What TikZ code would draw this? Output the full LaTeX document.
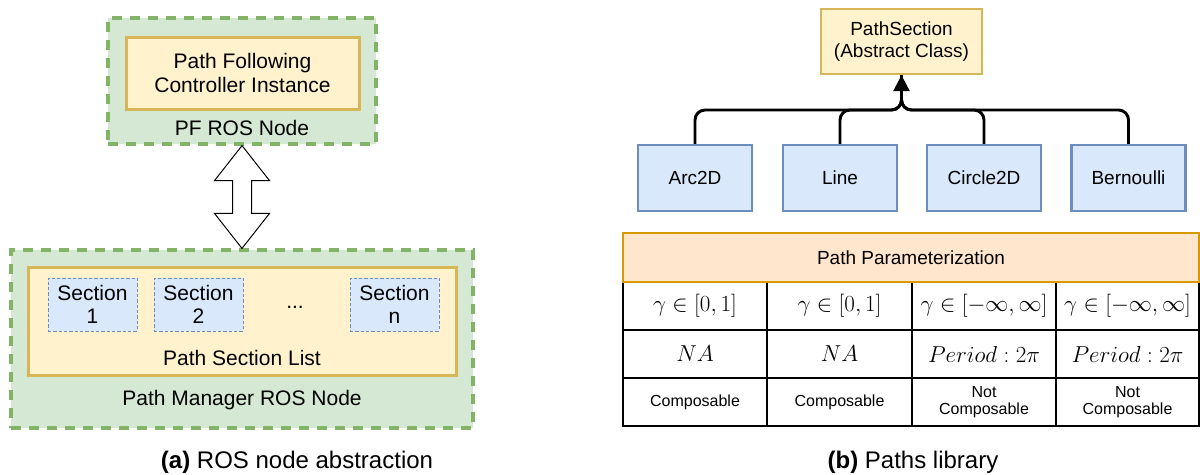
\documentclass[tikz,border=0pt]{standalone}
\usepackage{fontspec}
\setmainfont{Liberation Sans}
\usetikzlibrary{arrows.meta,calc}
\definecolor{gfill}{HTML}{D5E8D4}
\definecolor{gline}{HTML}{82B366}
\definecolor{yfill}{HTML}{FFF2CC}
\definecolor{yline}{HTML}{D6B656}
\definecolor{bfill}{HTML}{DAE8FC}
\definecolor{bline}{HTML}{6C8EBF}
\definecolor{ofill}{HTML}{FFE6CC}
\definecolor{oline}{HTML}{D79B00}
\def\px{0.75pt}
\tikzset{
  leftfont/.style={font=\fontsize{15.75}{18.6}\selectfont},
  rightfont/.style={font=\fontsize{14.25}{17}\selectfont},
  greenbox/.style={draw=gline, fill=gfill, line width=2.4pt, dash pattern=on 7.5pt off 6pt, inner sep=0pt},
  yellowbox/.style={draw=yline, fill=yfill, line width=2.25pt, inner sep=0pt, align=center, leftfont},
  secbox/.style={draw=bline, fill=bfill, line width=0.75pt, dash pattern=on 2.5pt off 1.5pt, inner sep=0pt,
    minimum width=89*\px, minimum height=53*\px, align=center, leftfont},
  classbox/.style={draw=bline, fill=bfill, line width=1.8pt, inner sep=0pt,
    minimum width=114*\px, minimum height=66*\px, rightfont},
  absbox/.style={draw=yline, fill=yfill, line width=1.8pt, inner sep=0pt, align=center,
    minimum width=161*\px, minimum height=65*\px, rightfont},
  lbl/.style={inner sep=0pt, leftfont},
  conn/.style={line width=2.2pt, rounded corners=7.5pt},
  darrow/.style={draw=black, fill=white, line width=0.75pt, line join=miter},
  grid/.style={line width=2.1pt, black},
  mathcell/.style={inner sep=0pt, font=\fontsize{17}{20}\selectfont},
  smallcell/.style={inner sep=0pt, align=center, font=\fontsize{12}{14}\selectfont},
  caption/.style={inner sep=0pt, font=\fontsize{18}{21}\selectfont},
}
\begin{document}
\begin{tikzpicture}[x=0.75pt,y=-0.75pt]
\useasboundingbox (0,0) rectangle (1200,475);

% ---------- (a) ROS node abstraction ----------
\node[greenbox, minimum width=268*\px, minimum height=126*\px] (pf) at (242,81) {};
\node[yellowbox, minimum width=233*\px, minimum height=72*\px] (pfc) at (242.5,73)
  {Path Following\\[-1pt]Controller Instance};
\node[lbl] (pflbl) at (242,128) {PF ROS Node};

\node[greenbox, minimum width=462*\px, minimum height=178*\px] (pm) at (242,339) {};
\node[yellowbox, minimum width=428*\px, minimum height=108*\px] (psl) at (242,321) {};
\node[secbox] (s1) at (92.5,304.5) {Section\\[-1pt]1};
\node[secbox] (s2) at (198.5,304.5) {Section\\[-1pt]2};
\node[lbl] (dots) at (295,307) {...};
\node[secbox] (sn) at (394.5,304.5) {Section\\[-1pt]n};
\node[lbl] (psllbl) at (242,358) {Path Section List};
\node[lbl] (pmlbl) at (242,400) {Path Manager ROS Node};

\draw[darrow] (pf.south) -- ++(27.5,35) -- ++(-18,0) -- ($(pm.north)+(9.5,-35)$)
  -- ++(18,0) -- (pm.north) -- ++(-27.5,-35) -- ++(18,0)
  -- ($(pf.south)+(-9.5,35)$) -- ++(-18,0) -- cycle;

\node[caption] (capa) at (297,462) {\textbf{(a)} ROS node abstraction};

% ---------- (b) Paths library ----------
\node[absbox] (ps) at (901.5,41.5) {PathSection\\[-1pt](Abstract Class)};
\node[classbox] (c1) at (695,178) {Arc2D};
\node[classbox] (c2) at (840,178) {Line};
\node[classbox] (c3) at (984,178) {Circle2D};
\node[classbox] (c4) at (1128.5,178) {Bernoulli};
\coordinate (jn) at (901.5,110);

\draw[conn] (c1.north) |- (jn) -- (ps.south);
\draw[conn] (c2.north) |- (jn) -- (ps.south);
\draw[conn] (c3.north) |- (jn) -- (ps.south);
\draw[conn] (c4.north) |- (jn) -- (ps.south);
\draw[line width=2.2pt, -{Triangle[width=12pt,length=12pt]}] ($(ps.south)+(0,14)$) -- (ps.south);

% table
\draw[grid] (767,282) -- (767,426);
\draw[grid] (912,282) -- (912,426);
\draw[grid] (1056,282) -- (1056,426);
\draw[grid] (623,330) -- (1199,330);
\draw[grid] (623,378) -- (1199,378);
\draw[grid, line join=miter] (623,282) -- (623,426) -- (1199,426) -- (1199,282);
\node[draw=oline, fill=ofill, line width=2pt, inner sep=0pt,
  minimum width=576*\px, minimum height=49*\px, rightfont] (hdr) at (911,257.5) {Path Parameterization};

\node[mathcell] (r1c1) at (695,306) {$\gamma\in[0,1]$};
\node[mathcell] (r1c2) at (839.5,306) {$\gamma\in[0,1]$};
\node[mathcell] (r1c3) at (984,306) {$\gamma\in[-\infty,\infty]$};
\node[mathcell] (r1c4) at (1127.5,306) {$\gamma\in[-\infty,\infty]$};
\node[mathcell] (r2c1) at (695,354) {$NA$};
\node[mathcell] (r2c2) at (839.5,354) {$NA$};
\node[mathcell] (r2c3) at (984,354) {$Period:2\pi$};
\node[mathcell] (r2c4) at (1127.5,354) {$Period:2\pi$};
\node[smallcell] (r3c1) at (695,402) {Composable};
\node[smallcell] (r3c2) at (839.5,402) {Composable};
\node[smallcell] (r3c3) at (984,402) {Not\\[-1pt]Composable};
\node[smallcell] (r3c4) at (1127.5,402) {Not\\[-1pt]Composable};

\node[caption] (capb) at (913,462) {\textbf{(b)} Paths library};
\end{tikzpicture}
\end{document}
